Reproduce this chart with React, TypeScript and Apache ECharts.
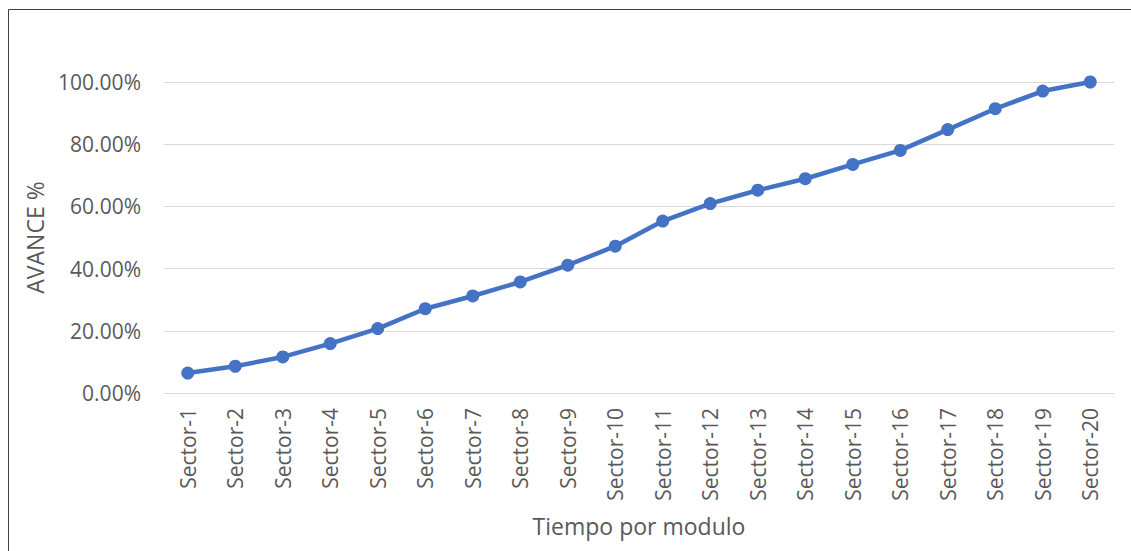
import React, { useEffect, useRef } from "react";
import * as echarts from "echarts";

const categories = [
  "Sector-1", "Sector-2", "Sector-3", "Sector-4", "Sector-5",
  "Sector-6", "Sector-7", "Sector-8", "Sector-9", "Sector-10",
  "Sector-11", "Sector-12", "Sector-13", "Sector-14", "Sector-15",
  "Sector-16", "Sector-17", "Sector-18", "Sector-19", "Sector-20",
];
const avance = [
  0.064, 0.086, 0.116, 0.159, 0.207, 0.271, 0.312, 0.357, 0.411, 0.472,
  0.553, 0.609, 0.652, 0.689, 0.735, 0.780, 0.847, 0.914, 0.971, 1.0,
];
const yTicks = { min: 0, max: 1, interval: 0.2 };
const yTitle = "AVANCE %";
const xTitle = "Tiempo por modulo";

const FONT = "'Open Sans', sans-serif";
const TEXT = "#595959";

export default function App() {
  const ref = useRef<HTMLDivElement>(null);
  useEffect(() => {
    if (!ref.current) return;
    const chart = echarts.init(ref.current, undefined, { renderer: "svg" });
    chart.setOption({
      animation: false,
      backgroundColor: "#ffffff",
      grid: { left: 164, right: 17, top: 82, bottom: 158, containLabel: false },
      graphic: [
        { type: "line", shape: { x1: 8.5, y1: 9.5, x2: 1131, y2: 9.5 }, style: { stroke: "#404040", lineWidth: 1 } },
        { type: "line", shape: { x1: 8.5, y1: 9.5, x2: 8.5, y2: 551 }, style: { stroke: "#404040", lineWidth: 1 } },
      ],
      xAxis: {
        type: "category",
        data: categories,
        boundaryGap: true,
        axisLine: { show: false },
        axisTick: { show: false },
        axisLabel: { rotate: 90, color: TEXT, fontFamily: FONT, fontSize: 21, margin: 15, interval: 0 },
        name: xTitle,
        nameLocation: "middle",
        nameGap: 121,
        nameTextStyle: { color: TEXT, fontFamily: FONT, fontSize: 23 },
      },
      yAxis: {
        type: "value",
        min: yTicks.min,
        max: yTicks.max,
        interval: yTicks.interval,
        axisLine: { show: false },
        axisTick: { show: false },
        splitLine: { lineStyle: { color: "#D9D9D9", width: 1 } },
        axisLabel: {
          color: TEXT, fontFamily: FONT, fontSize: 21, margin: 23,
          formatter: (v: number) => (v * 100).toFixed(2) + "%",
        },
        name: yTitle,
        nameLocation: "middle",
        nameRotate: 90,
        nameGap: 118,
        nameTextStyle: { color: TEXT, fontFamily: FONT, fontSize: 23 },
      },
      series: [
        {
          type: "line",
          data: avance,
          symbol: "circle",
          symbolSize: 13,
          lineStyle: { color: "#4472C4", width: 4.5 },
          itemStyle: { color: "#4472C4" },
        },
      ],
    });
    return () => chart.dispose();
  }, []);
  return (
    <div
      ref={ref}
      style={{ position: "absolute", left: 0, top: 0, width: 1131, height: 551 }}
    />
  );
}
